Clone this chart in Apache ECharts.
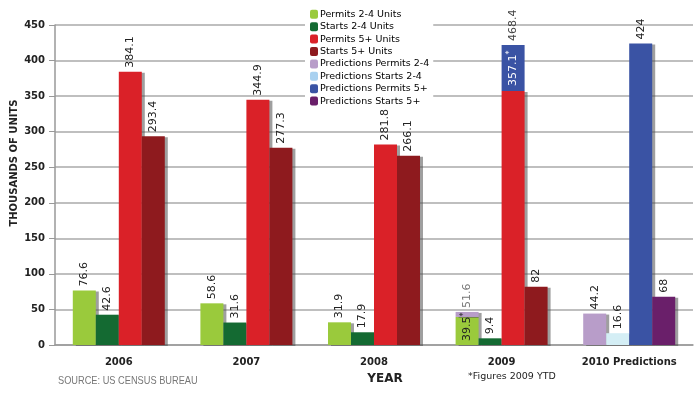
<!DOCTYPE html>
<html>
<head>
<meta charset="utf-8">
<script src="https://cdn.jsdelivr.net/npm/echarts@6/dist/echarts.min.js"></script>
<style>
  html, body { margin: 0; padding: 0; background: #fff; }
  #main { width: 700px; height: 396px; }
</style>
</head>
<body>
<div id="main"></div>
<script>
var years = ['2006', '2007', '2008', '2009', '2010 Predictions'];

var permits24 = [76.6, 58.6, 31.9, 39.5, null];
var starts24 = [42.6, 31.6, 17.9, 9.4, null];
var permits5 = [384.1, 344.9, 281.8, 357.1, null];
var starts5 = [293.4, 277.3, 266.1, 82, null];

// prediction bar tops as drawn in the picture (2009 ones sit stacked on the YTD bars)
var predPermits24 = [null, null, null, 46.5, 44.2];
var predStarts24 = [null, null, null, null, 16.6];
var predPermits5 = [null, null, null, 422, 424];
var predStarts5 = [null, null, null, null, 68];

// the figures printed above the prediction bars
var predPermits24Text = ['', '', '', '51.6', '44.2'];
var predStarts24Text = ['', '', '', '', '16.6'];
var predPermits5Text = ['', '', '', '468.4', '424'];
var predStarts5Text = ['', '', '', '', '68'];

var colors = ['#9aca3c', '#146a32', '#da2128', '#8e1a1e', '#b89dc9', '#a9d1f0', '#3a53a4', '#6a1f6a'];

var chart = echarts.init(document.getElementById('main'));

var font = 'DejaVu Sans';

function baseLabel(color) {
    return {
        show: true,
        position: 'top',
        rotate: 90,
        align: 'left',
        verticalAlign: 'middle',
        distance: 4,
        fontFamily: font,
        fontSize: 11,
        color: color || '#222'
    };
}

var shadow = {
    shadowColor: 'rgba(80,80,80,0.55)',
    shadowOffsetX: 3,
    shadowOffsetY: 1,
    shadowBlur: 0
};

function actual(vals, stack, idx, specials) {
    return {
        name: ['Permits 2-4 Units', 'Starts 2-4 Units', 'Permits 5+ Units', 'Starts 5+ Units'][idx],
        type: 'bar',
        stack: stack,
        barWidth: 23,
        barGap: '0%',
        itemStyle: Object.assign({color: colors[idx]}, shadow),
        label: baseLabel(),
        data: vals.map(function (v, i) {
            if (v == null) return '-';
            if (specials && specials[i]) return {value: v, label: specials[i]};
            return v;
        })
    };
}

function pred(tops, texts, base, stack, idx, name, labelColors, itemStyles) {
    return {
        name: name,
        type: 'bar',
        stack: stack,
        barWidth: 23,
        barGap: '0%',
        itemStyle: Object.assign({color: colors[idx]}, shadow),
        label: baseLabel(),
        data: tops.map(function (t, i) {
            if (t == null) return '-';
            var b = base[i] || 0;
            var item = {
                value: +(t - b).toFixed(1),
                label: Object.assign(baseLabel(labelColors[i]), {formatter: texts[i]})
            };
            if (itemStyles && itemStyles[i]) item.itemStyle = itemStyles[i];
            return item;
        })
    };
}

var starLabel = {
    position: 'insideBottom',
    align: 'left',
    verticalAlign: 'middle',
    distance: 4,
    formatter: '{a|39.5}{s|*}',
    rich: {
        a: {fontFamily: font, fontSize: 11, color: '#222'},
        s: {fontFamily: font, fontSize: 8, color: '#222', padding: [0, 0, 6, 0]}
    }
};
var redStarLabel = {
    position: 'top',
    distance: 5,
    formatter: '{a|357.1}{s|*}',
    rich: {
        a: {fontFamily: font, fontSize: 11, color: '#fff'},
        s: {fontFamily: font, fontSize: 8, color: '#fff', padding: [0, 0, 6, 0]}
    }
};

chart.setOption({
    animation: false,
    color: colors,
    textStyle: {fontFamily: font},
    grid: {left: 55, right: 7, top: 25, bottom: 51},
    legend: {
        orient: 'vertical',
        left: 305,
        top: 5,
        itemWidth: 8,
        itemHeight: 9,
        itemGap: 1.8,
        padding: [4, 4, 1, 5],
        backgroundColor: '#fff',
        textStyle: {fontFamily: font, fontSize: 9.5, color: '#000', padding: [0, 0, 0, -3], lineHeight: 10.6},
        data: ['Permits 2-4 Units', 'Starts 2-4 Units', 'Permits 5+ Units', 'Starts 5+ Units',
            'Predictions Permits 2-4', 'Predictions Starts 2-4', 'Predictions Permits 5+', 'Predictions Starts 5+']
    },
    xAxis: {
        type: 'category',
        data: years,
        axisLine: {lineStyle: {color: '#999', width: 1.5}},
        axisTick: {length: 5, lineStyle: {color: '#999'}},
        axisLabel: {fontFamily: font, fontSize: 10, fontWeight: 'bold', color: '#222', margin: 12}
    },
    yAxis: {
        type: 'value',
        min: 0,
        max: 450,
        interval: 50,
        axisLine: {show: true, lineStyle: {color: '#999', width: 1.5}},
        axisTick: {show: true, length: 6, lineStyle: {color: '#999'}},
        axisLabel: {fontFamily: font, fontSize: 10, fontWeight: 'bold', color: '#222', margin: 10},
        splitLine: {lineStyle: {color: '#aaa', width: 1.5}}
    },
    series: [
        actual(permits24, 'a', 0, {3: starLabel}),
        actual(starts24, 'b', 1),
        actual(permits5, 'c', 2, {3: redStarLabel}),
        actual(starts5, 'd', 3),
        pred(predPermits24, predPermits24Text, permits24, 'a', 4, 'Predictions Permits 2-4', {3: '#777', 4: '#222'}),
        pred(predStarts24, predStarts24Text, starts24, 'b', 5, 'Predictions Starts 2-4', {4: '#222'},
            {4: {color: '#d4eef5'}}),
        pred(predPermits5, predPermits5Text, permits5, 'c', 6, 'Predictions Permits 5+', {3: '#444', 4: '#222'},
            {3: {shadowColor: 'rgba(0,0,0,0)'}}),
        pred(predStarts5, predStarts5Text, starts5, 'd', 7, 'Predictions Starts 5+', {4: '#222'})
    ],
    graphic: [
        {
            type: 'text', x: 14, y: 163,
            rotation: Math.PI / 2,
            style: {text: 'THOUSANDS OF UNITS', font: 'bold 10px "DejaVu Sans"', fill: '#222', align: 'center', verticalAlign: 'middle'}
        },
        {
            type: 'text', x: 385, y: 379,
            style: {text: 'YEAR', font: 'bold 12px "DejaVu Sans"', fill: '#222', align: 'center', verticalAlign: 'middle'}
        },
        {
            type: 'text', x: 58, y: 381, scaleX: 0.84,
            style: {text: 'SOURCE: US CENSUS BUREAU', font: '11px "Liberation Sans", sans-serif', fill: '#777', verticalAlign: 'middle'}
        },
        {
            type: 'text', x: 468, y: 377,
            style: {text: '*Figures 2009 YTD', font: '9.5px "DejaVu Sans"', fill: '#222', verticalAlign: 'middle'}
        }
    ]
});
</script>
</body>
</html>
